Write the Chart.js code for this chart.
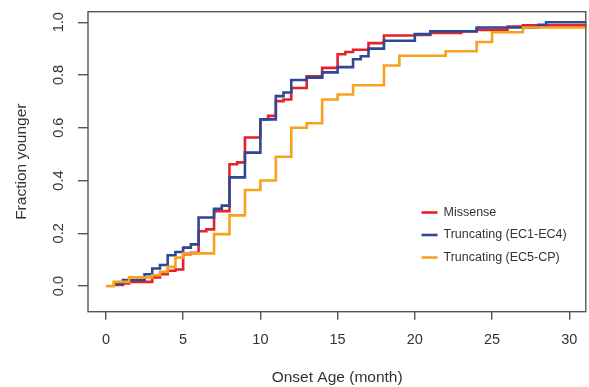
<!DOCTYPE html>
<html>
<head>
<meta charset="utf-8">
<script src="https://cdn.jsdelivr.net/npm/chart.js@4.4.1/dist/chart.umd.min.js"></script>
<style>
  html, body { margin: 0; padding: 0; background: #fff; }
  #wrap { width: 589px; height: 387px; }
</style>
</head>
<body>
<div id="wrap"><canvas id="ecdf" width="589" height="387"></canvas></div>
<script>
// ---------- data ----------
var missenseAge  = [0.6, 1.1, 1.5, 3, 3.5, 4, 4.5, 5, 5.5, 6, 6.5, 7, 8, 8.5, 9, 10, 10.5, 11, 11.5, 12, 13, 14, 15, 15.5, 16, 17, 18, 20, 21, 23, 24, 26, 27, 32];
var missenseFrac = [0.004, 0.01, 0.016, 0.033, 0.045, 0.058, 0.063, 0.121, 0.126, 0.208, 0.215, 0.284, 0.462, 0.469, 0.563, 0.632, 0.645, 0.701, 0.707, 0.751, 0.795, 0.827, 0.879, 0.887, 0.896, 0.921, 0.95, 0.952, 0.959, 0.965, 0.971, 0.984, 0.988, 0.988];

var truncEC14Age  = [0.6, 1.1, 2.5, 3, 3.5, 4, 4.5, 5, 5.5, 6, 7, 7.5, 8, 9, 10, 11, 11.5, 12, 13, 14, 15, 16, 16.5, 17, 18, 20, 21, 24, 28, 28.5, 32];
var truncEC14Frac = [0.008, 0.023, 0.045, 0.067, 0.08, 0.117, 0.129, 0.146, 0.158, 0.26, 0.293, 0.305, 0.412, 0.506, 0.632, 0.72, 0.734, 0.781, 0.79, 0.81, 0.83, 0.86, 0.871, 0.9, 0.93, 0.955, 0.966, 0.98, 0.99, 1.0, 1.0];

var truncEC5Age  = [0, 0.5, 1.5, 3, 3.5, 4, 4.5, 5, 7, 8, 9, 10, 11, 12, 13, 14, 15, 16, 18, 19, 22, 24, 25, 27, 32];
var truncEC5Frac = [0, 0.016, 0.033, 0.041, 0.054, 0.073, 0.108, 0.124, 0.197, 0.268, 0.364, 0.40, 0.49, 0.60, 0.617, 0.707, 0.726, 0.761, 0.836, 0.873, 0.89, 0.925, 0.962, 0.98, 0.98];

var seriesNames = ['Missense', 'Truncating (EC1-EC4)', 'Truncating (EC5-CP)'];
var xTicks = [0, 5, 10, 15, 20, 25, 30];
var yTicks = [0, 0.2, 0.4, 0.6, 0.8, 1.0];

(function () {
  var RED = '#e4222b', BLUE = '#2d4896', ORANGE = '#f7a11d';
  var COLORS = [RED, BLUE, ORANGE];
  var FONT = "'Liberation Sans', Arial, Helvetica, sans-serif";
  var TXT = '#333', AXIS = '#555';

  function pts(xs, ys) { return xs.map(function (x, i) { return { x: x, y: ys[i] }; }); }

  function ds(i, xs, ys, order) {
    return { label: seriesNames[i], data: pts(xs, ys), borderColor: COLORS[i], backgroundColor: COLORS[i],
      borderWidth: 2.6, stepped: true, pointRadius: 0, fill: false, order: order };
  }

  // plot box like R's box()
  var boxPlugin = {
    id: 'rbox',
    afterDatasetsDraw: function (chart) {
      var a = chart.chartArea, c = chart.ctx;
      c.save();
      c.strokeStyle = AXIS; c.lineWidth = 1.4;
      c.strokeRect(a.left, a.top, a.right - a.left - 0.5, a.bottom - a.top);
      c.restore();
    }
  };

  // y tick labels rotated (R las=0), placed from the y scale
  var yLabelPlugin = {
    id: 'ylabels',
    afterDraw: function (chart) {
      var s = chart.scales.y, c = chart.ctx;
      c.save();
      c.fillStyle = TXT; c.font = '14.5px ' + FONT;
      c.textAlign = 'center'; c.textBaseline = 'middle';
      s.ticks.forEach(function (t) {
        var py = s.getPixelForValue(t.value);
        c.save(); c.translate(59, py); c.rotate(-Math.PI / 2);
        c.fillText(t.value.toFixed(1), 0, 0);
        c.restore();
      });
      c.restore();
    }
  };

  // legend inside the plot, bottom right
  var legendPlugin = {
    id: 'rlegend',
    afterDraw: function (chart) {
      var c = chart.ctx, x0 = 421.5, x1 = 437.5, tx = 443.5, rows = [212.5, 235, 257.5];
      c.save();
      c.font = '12.5px ' + FONT; c.textBaseline = 'middle'; c.textAlign = 'left';
      seriesNames.forEach(function (n, i) {
        c.strokeStyle = COLORS[i]; c.lineWidth = 2.6;
        c.beginPath(); c.moveTo(x0, rows[i]); c.lineTo(x1, rows[i]); c.stroke();
        c.fillStyle = TXT; c.fillText(n, tx, rows[i]);
      });
      c.restore();
    }
  };

  function fixTicks(vals) {
    return function (s) { s.ticks = vals.map(function (v) { return { value: v }; }); };
  }

  new Chart(document.getElementById('ecdf').getContext('2d'), {
    type: 'line',
    data: {
      datasets: [
        ds(0, missenseAge, missenseFrac, 3),
        ds(1, truncEC14Age, truncEC14Frac, 2),
        ds(2, truncEC5Age, truncEC5Frac, 1)
      ]
    },
    options: {
      responsive: false, animation: false, devicePixelRatio: 1,
      layout: { padding: { top: 10, right: 1, left: 0, bottom: 0 } },
      plugins: { legend: { display: false }, tooltip: { enabled: false } },
      scales: {
        x: {
          type: 'linear', min: -1.16, max: 31.1,
          afterBuildTicks: fixTicks(xTicks),
          afterFit: function (s) { s.height = 75.3; },
          border: { display: false },
          grid: { drawOnChartArea: false, drawTicks: true, tickLength: 8, color: AXIS, lineWidth: 1.4 },
          ticks: { color: TXT, font: { family: FONT, size: 14.5 }, padding: 11.6, maxRotation: 0,
            callback: function (v) { return String(v); } },
          title: { display: true, text: 'Onset Age (month)', color: TXT,
            font: { family: FONT, size: 15.5 }, padding: { top: 0, bottom: 0 } }
        },
        y: {
          type: 'linear', min: -0.097, max: 1.04,
          afterBuildTicks: fixTicks(yTicks),
          afterFit: function (s) { s.width = 88; },
          border: { display: false },
          grid: { drawOnChartArea: false, drawTicks: true, tickLength: 10, color: AXIS, lineWidth: 1.4 },
          ticks: { color: 'rgba(0,0,0,0)', font: { family: FONT, size: 14.5 } },
          title: { display: true, text: 'Fraction younger', color: TXT,
            font: { family: FONT, size: 15.5 }, padding: { top: 12.7, bottom: 0 } }
        }
      }
    },
    plugins: [boxPlugin, yLabelPlugin, legendPlugin]
  });
})();
</script>
</body>
</html>
